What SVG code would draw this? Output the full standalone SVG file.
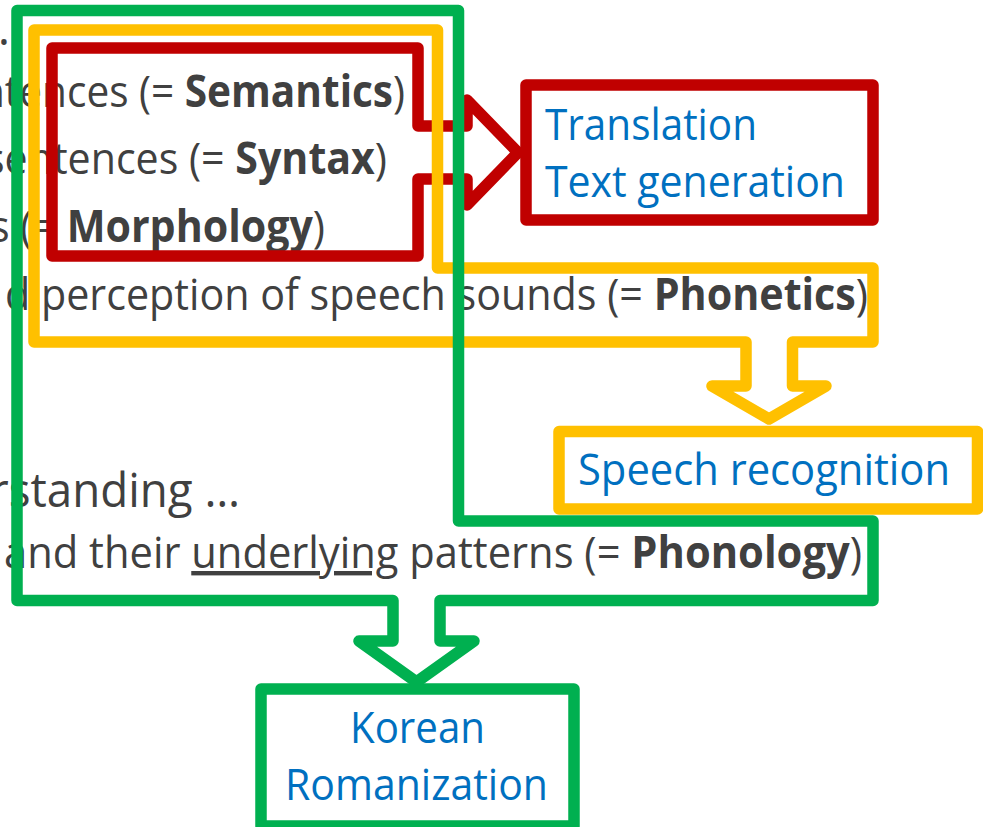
<svg xmlns="http://www.w3.org/2000/svg" width="983" height="827" viewBox="0 0 983 827">
<style>
  .g{font-family:"Open Sans","Noto Sans","Liberation Sans",sans-serif;fill:#404040;font-size:44px}
  .big{font-size:48px}
  .b{font-weight:bold}
  .lbl{font-family:"Open Sans","Noto Sans","Liberation Sans",sans-serif;fill:#0070C0;font-size:44px}
  .sh{fill:none;stroke-width:11.5;stroke-linejoin:round}
  .red{stroke:#C00000}
  .yel{stroke:#FFC000}
  .grn{stroke:#00B050}
  .box{fill:#FFFFFF;stroke-width:11.5;stroke-linejoin:round}
</style>
<rect width="983" height="827" fill="#FFFFFF"/>
<g id="background-text">
  <text class="g big" x="-26" y="45" textLength="36" lengthAdjust="spacingAndGlyphs">…</text>
  <text class="g" x="-20" y="107" textLength="425" lengthAdjust="spacingAndGlyphs">ntences (= <tspan class="b">Semantics</tspan>)</text>
  <text class="g" x="-15" y="174" textLength="402" lengthAdjust="spacingAndGlyphs">sentences (= <tspan class="b">Syntax</tspan>)</text>
  <text class="g" x="-10" y="242" textLength="335" lengthAdjust="spacingAndGlyphs">s (= <tspan class="b">Morphology</tspan>)</text>
  <text class="g" x="5" y="310" textLength="863" lengthAdjust="spacingAndGlyphs">d perception of speech sounds (= <tspan class="b">Phonetics</tspan>)</text>
  <text class="g big" x="-10" y="507" textLength="250" lengthAdjust="spacingAndGlyphs">rstanding …</text>
  <text class="g" x="4" y="568" textLength="858" lengthAdjust="spacingAndGlyphs">and their <tspan text-decoration="underline">underlying</tspan> patterns (= <tspan class="b">Phonology</tspan>)</text>
</g>
<g id="connectors">
  <path id="semantics-syntax-morphology-arrow" class="sh red" d="M52,48 H418 V126 H467 V100 L518,152.5 L467,205 V179 H418 V256 H52 Z"/>
  <path id="phonetics-arrow" class="sh yel" d="M34,30 H437.5 V268 H873 V342 H792.5 V386 H826 L769,419 L712,386 H746 V342 H34 Z"/>
  <path id="phonology-arrow" class="sh grn" d="M17,10.5 H458.5 V521 H873 V600.5 H440 V641 H474 L416.5,682 L359,641 H393 V600.5 H17 Z"/>
</g>
<g id="translation-node">
  <rect class="box red" x="526" y="85" width="347" height="135"/>
  <text class="lbl" x="545" y="140" textLength="212" lengthAdjust="spacingAndGlyphs">Translation</text>
  <text class="lbl" x="545" y="197" textLength="300" lengthAdjust="spacingAndGlyphs">Text generation</text>
</g>
<g id="speech-recognition-node">
  <rect class="box yel" x="559" y="431.5" width="418.5" height="77.5"/>
  <text class="lbl" x="578" y="485" textLength="372" lengthAdjust="spacingAndGlyphs">Speech recognition</text>
</g>
<g id="korean-romanization-node">
  <rect class="box grn" x="261" y="689" width="313" height="137"/>
  <text class="lbl" x="350" y="743" textLength="135" lengthAdjust="spacingAndGlyphs">Korean</text>
  <text class="lbl" x="285" y="800" textLength="263" lengthAdjust="spacingAndGlyphs">Romanization</text>
</g>
</svg>
